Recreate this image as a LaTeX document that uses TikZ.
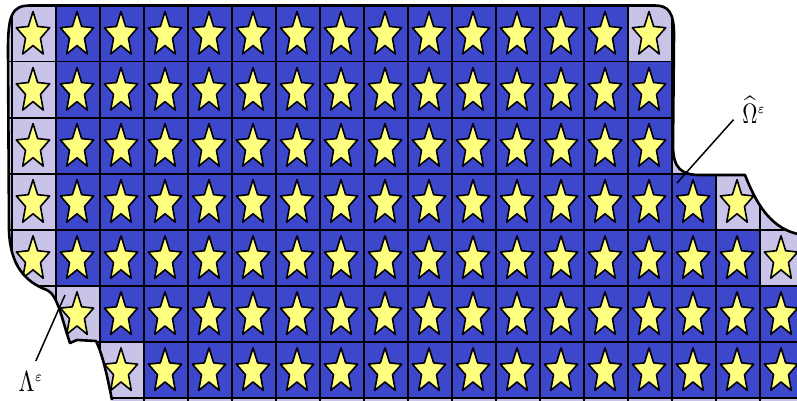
\documentclass[tikz,border=0pt]{standalone}
\usepackage{graphicx}
\definecolor{cellblue}{RGB}{61,71,204}
\definecolor{celllight}{RGB}{200,196,232}
\definecolor{staryellow}{RGB}{255,255,128}
\tikzset{
  starsty/.style={fill=staryellow, draw=black, line width=1.6pt, line join=round},
  gridsty/.style={draw=black, line width=1.8pt},
  boundsty/.style={draw=black, line width=2.6pt, line join=round},
  labelsty/.style={inner sep=0pt},
  leadsty/.style={draw=black, line width=1.5pt},
  mystar/.pic={\draw[starsty] (0,-23.5) -- (-4.63,-8.56) -- (-16.64,-7.26) -- (-7.49,3.27)
     -- (-10.29,19.01) -- (0,10.575) -- (10.29,19.01) -- (7.49,3.27) -- (16.64,-7.26)
     -- (4.63,-8.56) -- cycle;},
}
\begin{document}
\begin{tikzpicture}[x=1pt,y=-1pt]
\useasboundingbox (0,0) rectangle (797,400);
\clip (0,0) rectangle (797,400);
\begin{scope}
  \clip (30,5.5) -- (655,5.5) .. controls (668,5.5) and (674,12) .. (674,35)
    -- (673,145) .. controls (673,168) and (681,175) .. (700,175) -- (745,175)
    .. controls (755,200) and (770,232) .. (805,235) -- (805,405) -- (113,405)
    -- (112,400) .. controls (108,380) and (103,355) .. (96,341) -- (77,340) -- (70,343)
    .. controls (62,320) and (58,295) .. (47,290) .. controls (25,282) and (10,265) .. (9,230)
    -- (8,50) .. controls (8,15) and (12,5.5) .. (30,5.5) -- cycle;
  \fill[celllight] (0,0) rectangle (800,405);
  \foreach \rr/\ca/\cb in {0/1/13,1/1/14,2/1/14,3/1/15,4/1/16,5/2/17,6/3/17}
    \fill[cellblue] ({12+44*\ca},{5.5+56.07*\rr}) rectangle ({56+44*\cb},{61.57+56.07*\rr});
  \foreach \rr in {0,...,7}
    \draw[gridsty] (0,{5.5+56.07*\rr}) -- (805,{5.5+56.07*\rr});
  \foreach \kk in {0,...,18}
    \draw[gridsty] ({12+44*\kk},0) -- ({12+44*\kk},405);
  \foreach \rr/\ca/\cb in {0/0/14,1/0/14,2/0/14,3/0/16,4/0/17,5/1/17,6/2/17}{
    \foreach \cc in {\ca,...,\cb}{
      \pic at ({33+44*\cc},{35+56.07*\rr}) {mystar};
    }
  }
\end{scope}
\draw[boundsty] (112,400) .. controls (108,380) and (103,355) .. (96,341) -- (77,340) -- (70,343)
    .. controls (62,320) and (58,295) .. (47,290) .. controls (25,282) and (10,265) .. (9,230)
    -- (8,50) .. controls (8,15) and (12,5.5) .. (30,5.5) -- (655,5.5)
    .. controls (668,5.5) and (674,12) .. (674,35)
    -- (673,145) .. controls (673,168) and (681,175) .. (700,175) -- (745,175)
    .. controls (755,200) and (770,232) .. (805,235);
\node[labelsty] (omega) at (754,110) {\scalebox{2.1}[2.8]{$\widehat{\Omega}^{\scriptscriptstyle\varepsilon}$}};
\node[labelsty] (lam) at (31,382) {\scalebox{2.3}[2.9]{$\Lambda^{\scriptscriptstyle\varepsilon}$}};
\coordinate (oe) at (677,183);
\coordinate (le) at (65,295);
\draw[leadsty, shorten <=13pt] (omega.west) -- (oe);
\draw[leadsty, shorten <=12pt] (lam.north) -- (le);
\end{tikzpicture}
\end{document}
